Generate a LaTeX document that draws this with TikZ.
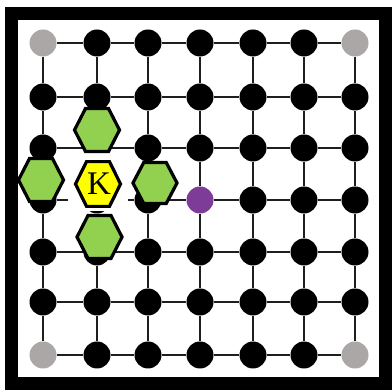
\documentclass[tikz,border=0pt]{standalone}
\usepackage{fontspec}
\usetikzlibrary{calc}
\newfontfamily\kserif{Liberation Serif}
\definecolor{dotgrey}{HTML}{ABA7A7}
\definecolor{dotpurple}{HTML}{7D3C98}
\definecolor{hexgreen}{HTML}{92D050}
\definecolor{hexyellow}{HTML}{FFFF00}
\definecolor{gridcol}{HTML}{1E1E1E}
\newcommand\kfont{\kserif\fontsize{33}{36}\selectfont}
\tikzset{
  dot/.style={circle,fill=black,inner sep=0pt,minimum size=27pt},
  dc-1-1/.style={fill=dotgrey}, dc-7-1/.style={fill=dotgrey},
  dc-1-7/.style={fill=dotgrey}, dc-7-7/.style={fill=dotgrey},
  dc-4-4/.style={fill=dotpurple},
  gridline/.style={draw=gridcol,line width=2.5pt},
  frame/.style={draw=black,line width=13pt},
  pics/hexa/.style={code={
    \path[draw=black,line width=3.2pt,line join=miter,fill=#1]
      (-22.5,0) -- (-11.5,-21.5) -- (11.5,-21.5) -- (22.5,0)
      -- (11.5,21.5) -- (-11.5,21.5) -- cycle;}},
  klabel/.style={inner sep=0pt,font=\kfont}
}
\begin{document}
\begin{tikzpicture}[x=1pt,y=-1pt]
\useasboundingbox (0,0) rectangle (392,390);
\fill[white] (0,0) rectangle (392,390);
% dots
\foreach \x [count=\i] in {43,97,148,200,253,304,355}{
  \foreach \y [count=\j] in {43,97,148,200,252,302,355}{
    \node[dot,dc-\i-\j/.try] (d\i-\j) at (\x,\y) {};
  }
}
% grid lines
\foreach \i in {1,...,7}{
  \foreach \j [evaluate=\j as \jn using int(\j+1)] in {1,...,6}{
    \draw[gridline] (d\i-\j) -- (d\i-\jn);
    \draw[gridline] (d\j-\i) -- (d\jn-\i);
  }
}
% white backing behind K
\fill[white] (68,152) rectangle (128,211);
% hexagons
\pic (hexTop) at (97,130) {hexa=hexgreen};
\pic (hexLeft) at (41,180) {hexa=hexgreen};
\pic[xscale=0.98,yscale=0.95] (hexRight) at (155,183) {hexa=hexgreen};
\pic (hexBottom) at (99.5,237) {hexa=hexgreen};
\pic[yscale=1.04] (hexK) at (98,184) {hexa=hexyellow};
\node[klabel] (K) at (99,184) {K};
% frame
\draw[frame] (11.5,13.5) rectangle (385.5,384);
\end{tikzpicture}
\end{document}
